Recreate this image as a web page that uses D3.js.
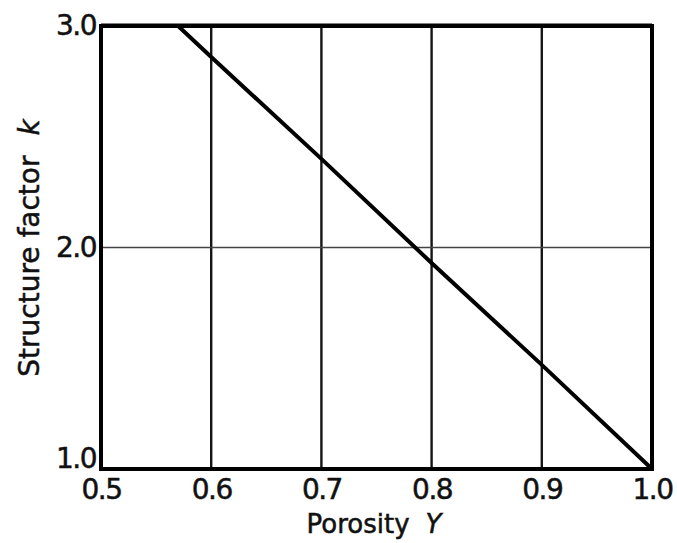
<!DOCTYPE html>
<html>
<head>
<meta charset="utf-8">
<script src="https://cdn.jsdelivr.net/npm/d3@7"></script>
<style>
  html, body { margin: 0; padding: 0; background: #fff; }
  svg { display: block; }
  .tick text { font-family: "DejaVu Sans", sans-serif; fill: #111; }
</style>
</head>
<body>
<svg id="chart" width="677" height="543"></svg>
<script>
// Structure factor k versus porosity Y
const porosity = [0.57, 0.6, 0.7, 0.8, 0.9, 1.0];
const structureFactor = [3.0, 2.86, 2.40, 1.93, 1.47, 1.0];

const xTicks = [0.5, 0.6, 0.7, 0.8, 0.9, 1.0];
const yTicks = [1.0, 2.0, 3.0];
const xGrid = [0.6, 0.7, 0.8, 0.9];
const yGrid = [2.0];

const xTitle = "Porosity";
const xSymbol = "Y";
const yTitle = "Structure factor";
const ySymbol = "k";

const svg = d3.select("#chart");
const plotLeft = 101, plotRight = 652, plotTop = 26, plotBottom = 469;

const x = d3.scaleLinear().domain([0.5, 1.0]).range([plotLeft, plotRight]);
const y = d3.scaleLinear().domain([1.0, 3.0]).range([plotBottom, plotTop]);

// grid
svg.append("g").selectAll("line").data(xGrid).join("line")
  .attr("x1", d => x(d)).attr("x2", d => x(d))
  .attr("y1", plotTop).attr("y2", plotBottom)
  .attr("stroke", "#151515").attr("stroke-width", 2.4);

svg.append("g").selectAll("line").data(yGrid).join("line")
  .attr("x1", plotLeft).attr("x2", plotRight)
  .attr("y1", d => y(d)).attr("y2", d => y(d))
  .attr("stroke", "#444").attr("stroke-width", 1.4);

// curve
const line = d3.line().x(d => x(d[0])).y(d => y(d[1]));
svg.append("path")
  .datum(porosity.map((p, i) => [p, structureFactor[i]]))
  .attr("d", line)
  .attr("fill", "none")
  .attr("stroke", "#000")
  .attr("stroke-width", 4)
  .attr("stroke-linecap", "round");

// frame
svg.append("rect")
  .attr("x", plotLeft).attr("y", plotTop)
  .attr("width", plotRight - plotLeft).attr("height", plotBottom - plotTop)
  .attr("fill", "none").attr("stroke", "#000").attr("stroke-width", 4);
svg.append("line")
  .attr("x1", plotLeft).attr("x2", plotRight)
  .attr("y1", plotTop - 1).attr("y2", plotTop - 1)
  .attr("stroke", "#000").attr("stroke-width", 3);

// axes
const fmt = d3.format(".1f");
const xAxis = svg.append("g")
  .attr("transform", `translate(0,${plotBottom})`)
  .call(d3.axisBottom(x).tickValues(xTicks).tickFormat(fmt).tickSize(0).tickPadding(9));
xAxis.select(".domain").remove();
xAxis.selectAll("text")
  .attr("font-size", 28).attr("letter-spacing", -1.5)
  .attr("dy", "0.75em")
  .attr("stroke", "#111").attr("stroke-width", 0.5);

const yAxis = svg.append("g")
  .attr("transform", `translate(${plotLeft},0)`)
  .call(d3.axisLeft(y).tickValues(yTicks).tickFormat(fmt).tickSize(0).tickPadding(5));
yAxis.select(".domain").remove();
yAxis.selectAll("text")
  .attr("font-size", 28).attr("letter-spacing", -1.5)
  .attr("dy", d => d === 1.0 ? "-0.05em" : "0.32em")
  .attr("stroke", "#111").attr("stroke-width", 0.5);

// axis titles
const xt = svg.append("text")
  .attr("x", 374).attr("y", 533)
  .attr("text-anchor", "middle")
  .attr("font-family", "DejaVu Sans, sans-serif")
  .attr("font-size", 26)
  .attr("fill", "#111")
  .attr("stroke", "#111").attr("stroke-width", 0.5);
xt.append("tspan").text(xTitle);
xt.append("tspan").attr("dx", 16).attr("font-style", "italic").text(xSymbol);

const yt = svg.append("text")
  .attr("transform", `translate(39,248) rotate(-90)`)
  .attr("text-anchor", "middle")
  .attr("font-family", "DejaVu Sans, sans-serif")
  .attr("font-size", 28)
  .attr("fill", "#111")
  .attr("stroke", "#111").attr("stroke-width", 0.5);
yt.append("tspan").text(yTitle);
yt.append("tspan").attr("dx", 20).attr("font-style", "italic").text(ySymbol);
</script>
</body>
</html>
